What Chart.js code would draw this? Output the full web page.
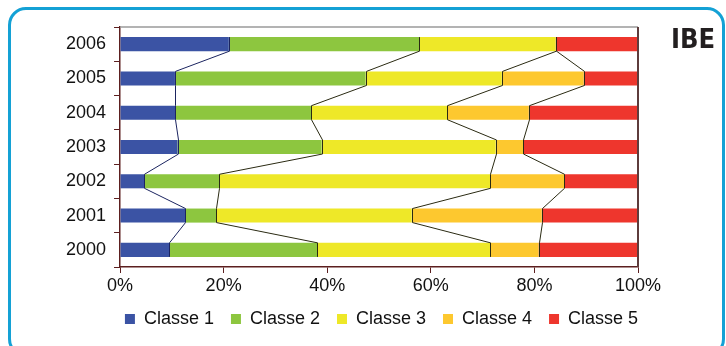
<!DOCTYPE html>
<html>
<head>
<meta charset="utf-8">
<script src="https://cdn.jsdelivr.net/npm/chart.js@4.4.1/dist/chart.umd.min.js"></script>
<style>
  html, body { margin: 0; padding: 0; background: #fff; overflow: hidden; }
  #wrap { position: relative; width: 726px; height: 346px; }
  #frame { position: absolute; left: 8px; top: 7px; width: 711px; height: 344px;
           border: 3px solid #14a1d5; border-radius: 18px; }
  #ibe { position: absolute; left: 671px; top: 23px; line-height: 1; color: #231f20;
         font: bold 27px "Liberation Sans Narrow", "DejaVu Sans Condensed", sans-serif; }
  canvas { position: absolute; left: 0; top: 0; }
</style>
</head>
<body>
<div id="wrap">
  <div id="frame"></div>
  <canvas id="barChart" width="726" height="346"></canvas>
  <div id="ibe">IBE</div>
</div>
<script>
// categories, top to bottom
const years = ['2006', '2005', '2004', '2003', '2002', '2001', '2000'];

// share of each class per year (%)
const classe1 = [21.0, 10.6, 10.7, 11.1, 4.7, 12.6, 9.5];
const classe2 = [36.8, 36.8, 26.2, 27.8, 14.5, 6.0, 28.6];
const classe3 = [26.3, 26.3, 26.3, 33.6, 52.3, 37.7, 33.4];
const classe4 = [0, 15.8, 15.7, 5.3, 14.3, 25.1, 9.3];
const classe5 = [15.9, 10.5, 21.1, 22.2, 14.2, 18.6, 19.2];

const axisColor = '#5c1f1f';

// series lines joining the stack boundaries of neighbouring bars
const seriesLines = {
    id: 'seriesLines',
    afterDatasetsDraw (chart) {
        const ctx = chart.ctx;
        ctx.save();
        ctx.lineWidth = 1;
        for (let d = 0; d < 4; d++) {
            const bars = chart.getDatasetMeta(d).data;
            ctx.strokeStyle = d === 0 ? '#1b2460' : '#2a2a12';
            ctx.beginPath();
            for (let i = 0; i < bars.length; i++) {
                const b = bars[i];
                const px = Math.round(b.x) + 0.5;
                const h = b.height / 2;
                ctx.moveTo(px, b.y - h);
                ctx.lineTo(px, b.y + h);
                if (i < bars.length - 1) {
                    const n = bars[i + 1];
                    ctx.moveTo(px, b.y + h);
                    ctx.lineTo(Math.round(n.x) + 0.5, n.y - n.height / 2);
                }
            }
            ctx.stroke();
        }
        ctx.restore();
    }
};

// grey top edge and dark right edge of the plot area
const plotFrame = {
    id: 'plotFrame',
    afterDatasetsDraw (chart) {
        const { ctx, chartArea: a } = chart;
        ctx.save();
        ctx.lineWidth = 1.5;
        ctx.strokeStyle = '#9a9a9a';
        ctx.beginPath();
        ctx.moveTo(a.left, a.top);
        ctx.lineTo(a.right, a.top);
        ctx.stroke();
        ctx.lineWidth = 2;
        ctx.strokeStyle = '#5e3c3c';
        ctx.beginPath();
        ctx.moveTo(a.right, a.top);
        ctx.lineTo(a.right, a.bottom);
        ctx.stroke();
        ctx.restore();
    }
};

const data = {
    labels: years,
    datasets: [
        { label: 'Classe 1', data: classe1, backgroundColor: '#3b53a4' },
        { label: 'Classe 2', data: classe2, backgroundColor: '#8dc63f' },
        { label: 'Classe 3', data: classe3, backgroundColor: '#eee828' },
        { label: 'Classe 4', data: classe4, backgroundColor: '#fdc82f' },
        { label: 'Classe 5', data: classe5, backgroundColor: '#ee362d' }
    ]
};

const config = {
    type: 'bar',
    data: data,
    options: {
        indexAxis: 'y',
        responsive: false,
        animation: false,
        datasets: {
            bar: { barPercentage: 0.41, categoryPercentage: 1, borderWidth: 0 }
        },
        layout: { padding: { left: 58, right: 21, top: 27, bottom: 8 } },
        scales: {
            x: {
                stacked: true,
                min: 0,
                max: 100,
                ticks: {
                    stepSize: 20,
                    callback: v => v + '%',
                    color: '#111',
                    padding: 2,
                    font: { family: 'Liberation Sans', size: 18 }
                },
                grid: { drawOnChartArea: false, tickLength: 6, color: axisColor },
                border: { color: axisColor, width: 1.5 },
                afterFit (scale) { scale.height = 26; }
            },
            y: {
                stacked: true,
                ticks: {
                    color: '#111',
                    padding: 8,
                    font: { family: 'Liberation Sans', size: 18 }
                },
                grid: { drawOnChartArea: false, tickLength: 6, color: axisColor, offset: true },
                border: { color: axisColor, width: 1.5 }
            },
            // empty right-hand box so the legend sits where it does in the original
            spacer: {
                type: 'linear',
                position: 'right',
                min: 0,
                max: 1,
                ticks: { display: false },
                grid: { display: false },
                border: { display: false },
                afterFit (scale) { scale.width = 67; }
            }
        },
        plugins: {
            legend: {
                position: 'bottom',
                labels: {
                    boxWidth: 10,
                    boxHeight: 10,
                    padding: 17,
                    color: '#111',
                    font: { family: 'Liberation Sans', size: 18 }
                }
            },
            tooltip: { enabled: false }
        }
    },
    plugins: [seriesLines, plotFrame]
};

const myChart = new Chart(document.getElementById('barChart'), config);
</script>
</body>
</html>
